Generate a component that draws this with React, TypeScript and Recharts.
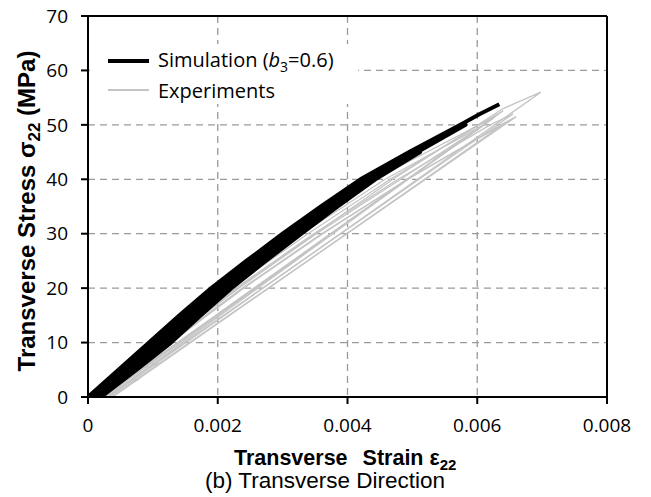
import { CartesianGrid, Label, Line, LineChart, ReferenceLine, XAxis, YAxis } from 'recharts';

type Pt = [number, number]; // [strain, stress MPa]

const strainTicks = [0, 0.002, 0.004, 0.006, 0.008];
const stressTicks = [0, 10, 20, 30, 40, 50, 60, 70];

// simulation: load / unload cycles, b3 = 0.6 (band of near-coincident paths)
const simulation: Pt[] = [
  // reload 1
  [0.00005, 0], [0.00054, 5], [0.00103, 10], [0.00149, 15], [0.00198, 20], [0.00252, 25],
  [0.00307, 30], [0.00366, 35], [0.00426, 40], [0.00499, 45],
  // unload 1
  [0.00512, 45], [0.00443, 40], [0.00385, 35], [0.00329, 30], [0.00274, 25],
  [0.00221, 20], [0.00174, 15], [0.00128, 10], [0.00075, 5], [0.0002, 0],
  // reload 2
  [0.00015, 0], [0.00068, 5], [0.0012, 10], [0.00166, 15], [0.00213, 20], [0.00267, 25],
  [0.00322, 30], [0.00379, 35], [0.00437, 40], [0.00508, 45], [0.00582, 50],
  // unload 2
  [0.00579, 50], [0.00504, 45], [0.00432, 40], [0.00372, 35], [0.00315, 30], [0.00259, 25],
  [0.00206, 20], [0.00158, 15], [0.00111, 10], [0.00061, 5], [0.0001, 0],
  // final loading
  [0, 0], [0.00047, 5], [0.00094, 10], [0.00141, 15], [0.0019, 20], [0.00244, 25],
  [0.003, 30], [0.00359, 35], [0.0042, 40], [0.00495, 45], [0.00574, 50],
  [0.00604, 52], [0.00634, 53.8],
];

// experiments: loading branch then unloading branch
const exp1: Pt[] = [
  [0.00012, 0], [0.00118, 10], [0.00232, 20], [0.0035, 30], [0.0047, 40],
  [0.00575, 48], [0.0064, 53], [0.00698, 56], [0.00032, 0],
];
const exp2: Pt[] = [
  [0.0001, 0], [0.00111, 10], [0.0022, 20], [0.00339, 30], [0.00466, 40],
  [0.00603, 50], [0.0064, 52.6], [0.0002, 0],
];
const exp3: Pt[] = [
  [0.00015, 0], [0.00118, 10], [0.00228, 20], [0.00348, 30], [0.00478, 40],
  [0.0062, 50], [0.00655, 52], [0.00028, 0],
];
const exp4: Pt[] = [
  [0.00008, 0], [0.00104, 10], [0.00206, 20], [0.00318, 30], [0.00442, 40],
  [0.00603, 50], [0.00625, 51.2], [0.00022, 0],
];
const exp5: Pt[] = [
  [0.00018, 0], [0.00125, 10], [0.00238, 20], [0.0036, 30], [0.00493, 40],
  [0.00636, 50], [0.0066, 51.5], [0.00035, 0],
];
const exp6: Pt[] = [
  [0.00012, 0], [0.0011, 10], [0.00215, 20], [0.0033, 30], [0.00458, 40],
  [0.0061, 50], [0.00025, 0],
];
const exp7: Pt[] = [
  [0.0002, 0], [0.00122, 10], [0.00232, 20], [0.00352, 30], [0.00482, 40],
  [0.0061, 50], [0.0063, 51.8], [0.0003, 0],
];
const exp8: Pt[] = [
  [0.00022, 0], [0.00128, 10], [0.0024, 20], [0.00362, 30], [0.00492, 40],
  [0.00638, 50], [0.00645, 50.5], [0.00038, 0],
];
const expHook1: Pt[] = [[0.00066, 2.6], [0.00076, 3.1], [0.0007, 3.2]];
const expHook2: Pt[] = [[0.0009, 5.4], [0.00108, 6.1], [0.00098, 6.2]];

const experiments = [exp1, exp2, exp3, exp4, exp5, exp6, exp7, exp8, expHook1, expHook2];

const toRows = (pts: Pt[]) => pts.map(([x, y]) => ({ x, y }));

const GRID = '#9a9a9a';
const EXP = '#c4c4c4';
const TICK_FONT = { fill: '#000', fontSize: 19, fontFamily: 'Open Sans' };
const TITLE_FONT = 'Liberation Sans, Arial';

function YTick(props: any) {
  const { y, payload } = props;
  return (
    <text x={68} y={y} dy="0.355em" textAnchor="end" {...TICK_FONT}>
      {payload.value}
    </text>
  );
}

function XTitle() {
  return (
    <g>
      <text x={234} y={465} fontFamily={TITLE_FONT} fontWeight="bold" fontSize={21.5} fill="#000">
        Transverse
        <tspan dx={15}>Strain ε</tspan>
        <tspan fontSize={15} dy={5}>22</tspan>
      </text>
      <text x={325} y={488} textAnchor="middle" fontFamily={TITLE_FONT} fontSize={22.5} fill="#000">
        (b) Transverse Direction
      </text>
    </g>
  );
}

function YTitle() {
  return (
    <text
      x={0}
      y={0}
      transform="translate(35 211) rotate(-90)"
      textAnchor="middle"
      fontFamily={TITLE_FONT}
      fontWeight="bold"
      fontSize={24}
      fill="#000"
    >
      Transverse Stress σ<tspan fontSize={17} dy={5}>22</tspan>
      <tspan dy={-5}> (MPa)</tspan>
    </text>
  );
}

export default function App() {
  return (
    <div style={{ position: 'absolute', left: 0, top: 0, width: 651, height: 497, background: '#fff' }}>
      <LineChart width={651} height={497} margin={{ top: 16, right: 44, bottom: 40, left: 0 }}>
        <CartesianGrid stroke={GRID} strokeDasharray="7 5" strokeWidth={1.3} />
        <XAxis
          type="number"
          dataKey="x"
          domain={[0, 0.008]}
          ticks={strainTicks}
          allowDataOverflow
          height={60}
          tickSize={7}
          tickMargin={15}
          tick={TICK_FONT}
          tickFormatter={(v: number) => (v === 0 ? '0' : v.toFixed(3))}
          axisLine={{ stroke: '#000', strokeWidth: 2 }}
          tickLine={{ stroke: '#000', strokeWidth: 2 }}
        >
          <Label content={() => <XTitle />} />
        </XAxis>
        <YAxis
          type="number"
          dataKey="y"
          domain={[0, 70]}
          ticks={stressTicks}
          allowDataOverflow
          width={88}
          tickSize={7}
          tick={<YTick />}
          axisLine={{ stroke: '#000', strokeWidth: 2 }}
          tickLine={{ stroke: '#000', strokeWidth: 2 }}
        >
          <Label content={() => <YTitle />} />
        </YAxis>
        {experiments.map((e, i) => (
          <Line
            key={i}
            data={toRows(e)}
            dataKey="y"
            type="linear"
            stroke={EXP}
            strokeWidth={1.3}
            dot={false}
            activeDot={false}
            isAnimationActive={false}
          />
        ))}
        <Line
          data={toRows(simulation)}
          dataKey="y"
          type="linear"
          stroke="#000"
          strokeWidth={4}
          strokeLinejoin="round"
          dot={false}
          activeDot={false}
          isAnimationActive={false}
        />
        <ReferenceLine y={70} stroke="#000" strokeWidth={2} />
        <ReferenceLine x={0.008} stroke="#000" strokeWidth={2} />
      </LineChart>
      <div
        style={{
          position: 'absolute',
          left: 90,
          top: 44,
          width: 268,
          height: 60,
          background: '#fff',
          fontFamily: 'Open Sans',
          fontSize: 20,
          color: '#000',
        }}
      >
        <div style={{ display: 'flex', alignItems: 'center', height: 30, marginTop: 2 }}>
          <div style={{ width: 41, height: 4, background: '#000', marginLeft: 18, marginRight: 9 }} />
          <span>
            Simulation (<i>b</i>
            <sub style={{ fontSize: 14 }}>3</sub>=0.6)
          </span>
        </div>
        <div style={{ display: 'flex', alignItems: 'center', height: 28 }}>
          <div style={{ width: 41, height: 1.5, background: EXP, marginLeft: 18, marginRight: 9 }} />
          <span>Experiments</span>
        </div>
      </div>
    </div>
  );
}
